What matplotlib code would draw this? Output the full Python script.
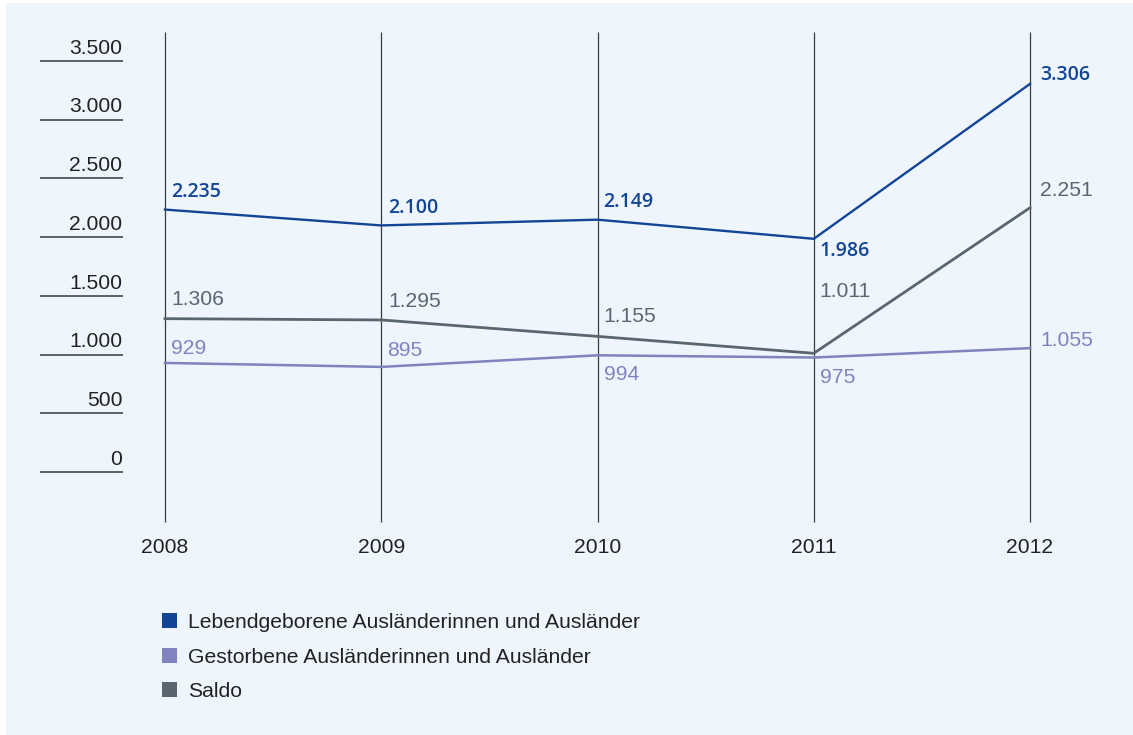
import matplotlib.pyplot as plt
from matplotlib.patches import Patch, Rectangle

plt.rcParams['font.family'] = ['Liberation Sans', 'DejaVu Sans']

years = [2008, 2009, 2010, 2011, 2012]
lebend = [2235, 2100, 2149, 1986, 3306]
gestorben = [929, 895, 994, 975, 1055]
saldo = [1306, 1295, 1155, 1011, 2251]
yticks = [0, 500, 1000, 1500, 2000, 2500, 3000, 3500]
legend_labels = ['Lebendgeborene Ausländerinnen und Ausländer',
                 'Gestorbene Ausländerinnen und Ausländer',
                 'Saldo']

c_blue = '#134596'
c_purple = '#7f84bf'
c_grey = '#596670'
bg = '#eef5fc'
fs = 15.2

def fmt(v):
    return f'{v:,}'.replace(',', '.')

fig = plt.figure(figsize=(11.33, 7.35), dpi=100)
fig.patches.append(Rectangle((6 / 1133, 0), 1, 1 - 3 / 735, transform=fig.transFigure,
                             facecolor=bg, edgecolor='none', zorder=-10))
ax = fig.add_axes([0, 0, 1, 1])
ax.set_facecolor('none')
ax.set_xlim(2007.237, 2012.476)
ax.set_ylim(-2240, 4020)
ax.axis('off')

# year columns
ax.vlines(years, -426, 3748, color='#3c3c3c', lw=0.9, zorder=1)
for y in years:
    ax.text(y, -645, str(y), ha='center', va='center', fontsize=fs, color='#222222')

# y ticks as short rules
ax.hlines(yticks, 2007.422, 2007.806, color='#555555', lw=1.3)
for t in yticks:
    ax.text(2007.802, t + 28, fmt(t), ha='right', va='bottom', fontsize=fs, color='#222222')

# lines
ax.plot(years, lebend, color=c_blue, lw=1.7, zorder=3)
ax.plot(years, gestorben, color=c_purple, lw=1.8, zorder=2)
ax.plot(years, saldo, color=c_grey, lw=2.0, zorder=2)

# value labels (offsets in pixels: dx, dy up)
off_lebend = [(6, 18), (7, 17), (6, 18), (6, -12), (10, 9)]
off_gest = [(6, 14), (6, 16), (6, -19), (6, -20), (10, 8)]
off_saldo = [(6, 19), (7, 18), (6, 20), (6, 62), (10, 17)]

for vals, offs, col, w in [(lebend, off_lebend, c_blue, 'semibold'),
                           (gestorben, off_gest, c_purple, 'normal'),
                           (saldo, off_saldo, c_grey, 'normal')]:
    for x, v, (dx, dy) in zip(years, vals, offs):
        txt = ax.annotate(fmt(v), (x, v), xytext=(dx * 0.72, dy * 0.72), textcoords='offset points',
                          ha='left', va='center', fontsize=fs, color=col)
        if w != 'normal':
            txt.set_path_effects([])
            txt.set_fontfamily(['Open Sans', 'Liberation Sans'])
            txt.set_fontweight(w)
            txt.set_fontsize(fs - 1.2)

handles = [Patch(facecolor=c, edgecolor='none') for c in (c_blue, c_purple, c_grey)]
fig.legend(handles, legend_labels, loc='upper left',
           bbox_to_anchor=(162 / 1133, 1 - 613 / 735), frameon=False, fontsize=fs,
           handlelength=0.7, handleheight=0.7, handletextpad=0.55, labelspacing=0.74,
           borderpad=0, borderaxespad=0, labelcolor='#222222')

fig.savefig('out.png', dpi=100, facecolor='white')
